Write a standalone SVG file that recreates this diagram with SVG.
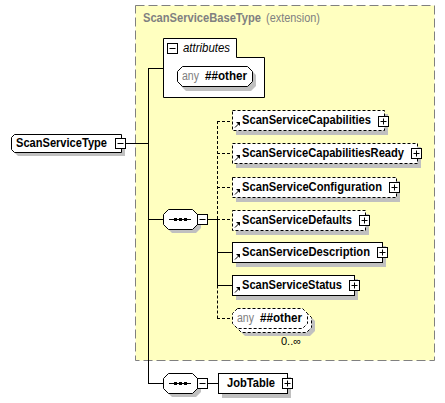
<svg xmlns="http://www.w3.org/2000/svg" width="445" height="403" viewBox="0 0 445 403">
<defs>
<style>
.sh{fill:#c0c0c0;stroke:none}
.box{fill:#fff;stroke:#000;stroke-width:1}
.dbox{fill:#fff;stroke:#000;stroke-width:1;stroke-dasharray:3,2}
.ln{stroke:#000;stroke-width:1;fill:none}
.dln{stroke:#000;stroke-width:1;fill:none;stroke-dasharray:3,2}
.lbl{font-family:"Liberation Sans",Arial,sans-serif;font-size:12px;font-weight:bold;fill:#000}
.any{font-family:"Liberation Sans",Arial,sans-serif;font-size:12px;fill:#808080}
.pm{fill:#fff;stroke:#000;stroke-width:1}
</style>
<g id="plus"><rect class="pm" x="0.5" y="0.5" width="10" height="10"/><path class="ln" d="M2.5,5.5H8.5M5.5,2.5V8.5"/></g>
<g id="minus"><rect class="pm" x="0.5" y="0.5" width="10" height="10"/><path class="ln" d="M2.5,5.5H8.5"/></g>
<g id="ref"><path class="ln" d="M1,5.5L4.5,2" stroke-width="1.3"/><path d="M2,0H6V4Z" fill="#000"/></g>
</defs>

<g id="base">
<rect x="135.5" y="5.5" width="299" height="355" fill="#ffffc0" stroke="#808080" stroke-dasharray="9,4"/>
<text x="143" y="22" font-family="Liberation Sans,Arial,sans-serif" font-size="12" fill="#808080"><tspan font-weight="bold" textLength="118" lengthAdjust="spacingAndGlyphs">ScanServiceBaseType</tspan><tspan x="266" textLength="54" lengthAdjust="spacingAndGlyphs">(extension)</tspan></text>
</g>

<g id="connectors">
<path class="ln" d="M126,143.5H148.5M148.5,68V383.5M148,68.5H163M148,219.5H163M148,383.5H163M208,219.5H217.5M208,383.5H218"/>
<path class="dln" d="M217.5,121V219"/>
<path class="ln" d="M217.5,219V285.5"/>
<path class="dln" d="M217.5,285.5V318.5"/>
<path class="dln" d="M217,121.5H232M217,153.5H232M217,187.5H232M217,219.5H232M217,318.5H232"/>
<path class="ln" d="M217,252.5H232M217,285.5H232"/>
</g>

<g id="ScanServiceType">
<path class="sh" d="M18,138H125V156H18L15,153V141Z"/>
<path class="box" d="M14.5,134.5H121.5V152.5H14.5L11.5,149.5V137.5Z"/>
<text class="lbl" x="16" y="147" textLength="91" lengthAdjust="spacingAndGlyphs">ScanServiceType</text>
<use href="#minus" x="115" y="138"/>
</g>

<g id="attributes">
<path class="box" d="M163.5,38.5H236.5V57.5H264.5V97.5H163.5Z"/>
<use href="#minus" x="167" y="43"/>
<text x="183" y="52" font-family="Liberation Sans,Arial,sans-serif" font-size="12" font-style="italic" textLength="47" lengthAdjust="spacingAndGlyphs">attributes</text>
<path class="sh" d="M186,70H251L256,75V86L251,91H186L181,86V75Z"/>
<path class="box" d="M182.5,66.5H247.5L252.5,71.5V81.5L247.5,86.5H182.5L177.5,81.5V71.5Z"/>
<text class="any" x="182" y="80" textLength="17" lengthAdjust="spacingAndGlyphs">any</text>
<text class="lbl" x="205" y="80" textLength="42" lengthAdjust="spacingAndGlyphs">##other</text>
</g>

<g id="sequence1">
<path class="sh" d="M172,213H196L201,218V228L196,233H172L167,228V218Z"/>
<path class="box" d="M168.5,209.5H192.5L197.5,214.5V224.5L192.5,229.5H168.5L163.5,224.5V214.5Z"/>
<path class="ln" d="M169,219.5H191"/>
<rect x="174" y="218" width="3" height="3"/><rect x="179" y="218" width="3" height="3"/><rect x="184" y="218" width="3" height="3"/>
<use href="#minus" x="197" y="214"/>
</g>

<g id="ScanServiceCapabilities">
<rect class="sh" x="236" y="114" width="152" height="21"/>
<rect class="dbox" x="232.5" y="110.5" width="152" height="20"/>
<use href="#ref" x="234" y="122"/>
<text class="lbl" x="242" y="124" textLength="129" lengthAdjust="spacingAndGlyphs">ScanServiceCapabilities</text>
<use href="#plus" x="378" y="116"/>
</g>

<g id="ScanServiceCapabilitiesReady">
<rect class="sh" x="236" y="147" width="185" height="21"/>
<rect class="dbox" x="232.5" y="143.5" width="185" height="20"/>
<use href="#ref" x="234" y="155"/>
<text class="lbl" x="242" y="157" textLength="162" lengthAdjust="spacingAndGlyphs">ScanServiceCapabilitiesReady</text>
<use href="#plus" x="411" y="148"/>
</g>

<g id="ScanServiceConfiguration">
<rect class="sh" x="236" y="181" width="164" height="21"/>
<rect class="dbox" x="232.5" y="177.5" width="164" height="20"/>
<use href="#ref" x="234" y="189"/>
<text class="lbl" x="242" y="191" textLength="140" lengthAdjust="spacingAndGlyphs">ScanServiceConfiguration</text>
<use href="#plus" x="389" y="182"/>
</g>

<g id="ScanServiceDefaults">
<rect class="sh" x="236" y="214" width="133" height="21"/>
<rect class="dbox" x="232.5" y="210.5" width="133" height="20"/>
<use href="#ref" x="234" y="222"/>
<text class="lbl" x="242" y="224" textLength="110" lengthAdjust="spacingAndGlyphs">ScanServiceDefaults</text>
<use href="#plus" x="359" y="215"/>
</g>

<g id="ScanServiceDescription">
<rect class="sh" x="236" y="246" width="150" height="21"/>
<rect class="box" x="232.5" y="242.5" width="150" height="20"/>
<use href="#ref" x="234" y="254"/>
<text class="lbl" x="242" y="256" textLength="128" lengthAdjust="spacingAndGlyphs">ScanServiceDescription</text>
<use href="#plus" x="377" y="247"/>
</g>

<g id="ScanServiceStatus">
<rect class="sh" x="236" y="279" width="122" height="21"/>
<rect class="box" x="232.5" y="275.5" width="122" height="20"/>
<use href="#ref" x="234" y="287"/>
<text class="lbl" x="242" y="289" textLength="100" lengthAdjust="spacingAndGlyphs">ScanServiceStatus</text>
<use href="#plus" x="349" y="280"/>
</g>

<g id="anyOther">
<path class="sh" d="M245,316H310L315,321V331L310,336H245L240,331V321Z"/>
<path class="dbox" d="M241.5,312.5H306.5L311.5,317.5V327.5L306.5,332.5H241.5L236.5,327.5V317.5Z"/>
<path class="dbox" d="M237.5,308.5H302.5L307.5,313.5V323.5L302.5,328.5H237.5L232.5,323.5V313.5Z"/>
<text class="any" x="237" y="322" textLength="17" lengthAdjust="spacingAndGlyphs">any</text>
<text class="lbl" x="260" y="322" textLength="42" lengthAdjust="spacingAndGlyphs">##other</text>
<text x="281" y="345" font-family="Liberation Sans,Arial,sans-serif" font-size="11" fill="#000">0..∞</text>
</g>

<g id="sequence2">
<path class="sh" d="M172,377H196L201,382V392L196,397H172L167,392V382Z"/>
<path class="box" d="M168.5,373.5H192.5L197.5,378.5V388.5L192.5,393.5H168.5L163.5,388.5V378.5Z"/>
<path class="ln" d="M169,383.5H191"/>
<rect x="174" y="382" width="3" height="3"/><rect x="179" y="382" width="3" height="3"/><rect x="184" y="382" width="3" height="3"/>
<use href="#minus" x="197" y="378"/>
</g>

<g id="JobTable">
<rect class="sh" x="222" y="377" width="69" height="21"/>
<rect class="box" x="218.5" y="373.5" width="69" height="20"/>
<text class="lbl" x="227" y="387" textLength="48" lengthAdjust="spacingAndGlyphs">JobTable</text>
<use href="#plus" x="282" y="378"/>
</g>
</svg>
